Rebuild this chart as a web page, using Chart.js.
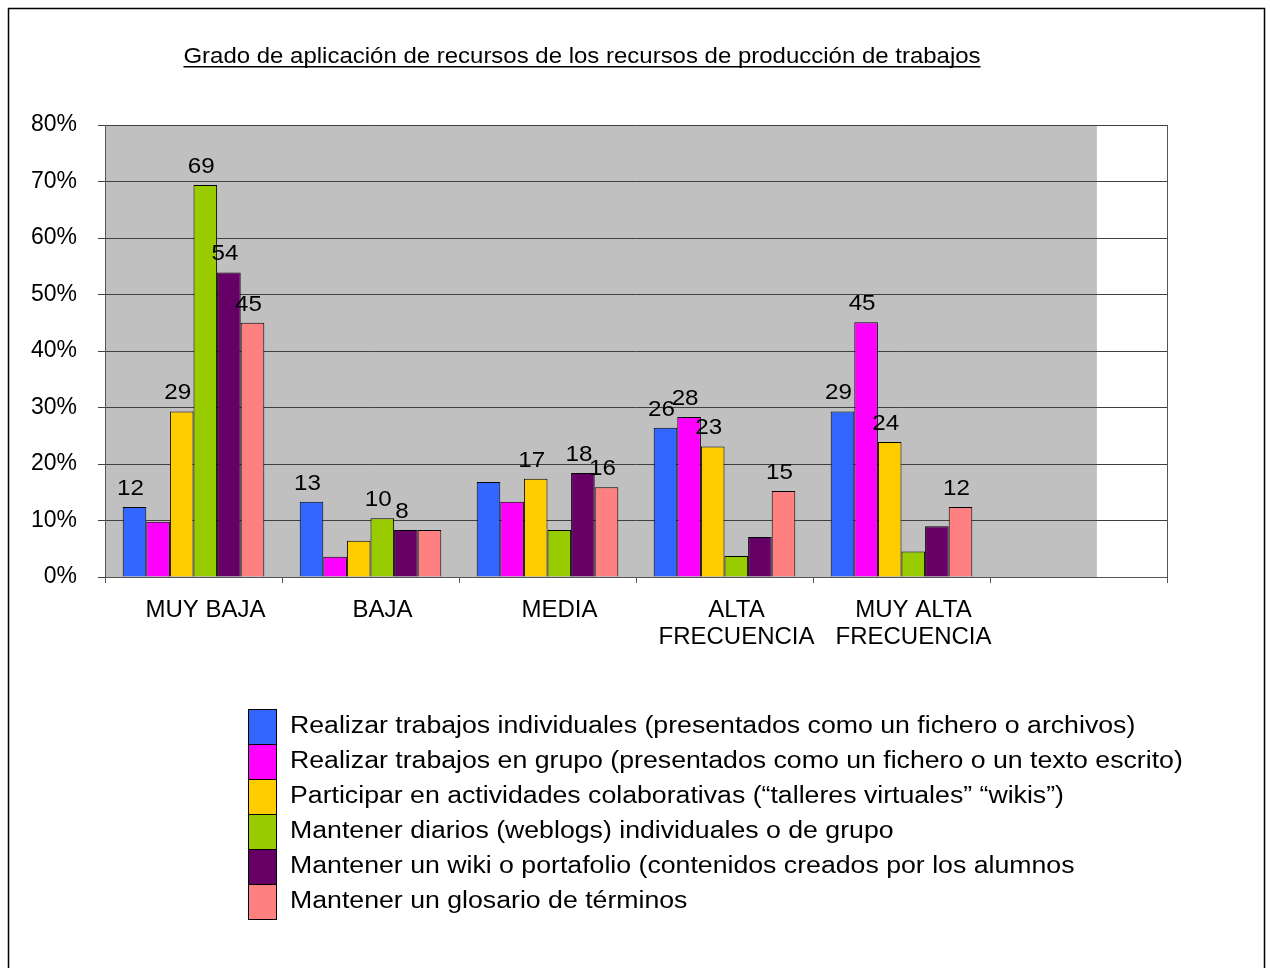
<!DOCTYPE html>
<html>
<head>
<meta charset="utf-8">
<script src="https://cdn.jsdelivr.net/npm/chart.js@4.4.1/dist/chart.umd.min.js"></script>
<style>
    html, body { margin: 0; padding: 0; background: #fff; overflow: hidden; }
    #wrap { width: 1270px; height: 968px; position: relative; }
</style>
</head>
<body>
<div id="wrap"><canvas id="myChart"></canvas></div>
<script>
const chartTitle = 'Grado de aplicación de recursos de los recursos de producción de trabajos';

const categories = ['MUY BAJA', 'BAJA', 'MEDIA', ['ALTA', 'FRECUENCIA'], ['MUY ALTA', 'FRECUENCIA'], ''];

const seriesNames = [
    'Realizar trabajos individuales (presentados como un fichero o archivos)',
    'Realizar trabajos en grupo (presentados como un fichero o un texto escrito)',
    'Participar en actividades colaborativas (“talleres virtuales” “wikis”)',
    'Mantener diarios (weblogs) individuales o de grupo',
    'Mantener un wiki o portafolio (contenidos creados por los alumnos',
    'Mantener un glosario de términos'
];

const individuales = [12.4, 13.3, 16.8, 26.4, 29.3, null];
const enGrupo      = [9.8, 3.6, 13.3, 28.3, 45.1, null];
const colaborativas = [29.3, 6.4, 17.4, 23.1, 23.9, null];
const diarios      = [69.4, 10.4, 8.3, 3.7, 4.5, null];
const wiki         = [53.9, 8.3, 18.4, 7.1, 9.0, null];
const glosario     = [45.0, 8.3, 15.9, 15.2, 12.4, null];

// which bars carry a value label in the original
const showIndividuales = [1, 1, 0, 1, 1, 0];
const showEnGrupo      = [0, 0, 0, 1, 1, 0];
const showColab        = [1, 0, 1, 1, 1, 0];
const showDiarios      = [1, 1, 0, 0, 0, 0];
const showWiki         = [1, 1, 1, 0, 0, 0];
const showGlosario     = [1, 0, 1, 1, 1, 0];

const yTicks = [0, 10, 20, 30, 40, 50, 60, 70, 80];

const colors = ['#3366FF', '#FF00FF', '#FFCC00', '#99CC00', '#660066', '#FF8080'];
const allValues = [individuales, enGrupo, colaborativas, diarios, wiki, glosario];
const allShow = [showIndividuales, showEnGrupo, showColab, showDiarios, showWiki, showGlosario];

const FONT = '"Liberation Sans", Arial, sans-serif';

// draw text a bit wider than the font gives, like the stretched original
function wideText(ctx, text, x, y, sx) {
    ctx.save();
    ctx.translate(x, y);
    ctx.scale(sx, 1);
    ctx.fillText(text, 0, 0);
    ctx.restore();
}

const extras = {
    id: 'extras',
    beforeDraw(chart) {
        const ctx = chart.ctx;
        const a = chart.chartArea;
        ctx.save();
        ctx.fillStyle = '#fff';
        ctx.fillRect(0, 0, chart.width, chart.height);
        // outer frame
        ctx.strokeStyle = '#000';
        ctx.lineWidth = 1.5;
        ctx.strokeRect(8.5, 8.5, 1256, 1000);
        // grey plot background (stops short of the right edge)
        ctx.fillStyle = '#C0C0C0';
        ctx.fillRect(a.left, a.top, (a.right - a.left) * 0.934, a.bottom - a.top);
        ctx.restore();
    },
    afterDatasetsDraw(chart) {
        const ctx = chart.ctx;
        const a = chart.chartArea;
        ctx.save();
        ctx.strokeStyle = '#555';
        ctx.lineWidth = 1;
        ctx.beginPath();
        ctx.moveTo(a.right + 0.5, a.top);
        ctx.lineTo(a.right + 0.5, a.bottom);
        ctx.stroke();

        ctx.font = '22px ' + FONT;
        ctx.fillStyle = '#000';
        ctx.textAlign = 'center';
        ctx.textBaseline = 'alphabetic';
        chart.data.datasets.forEach((ds, i) => {
            const meta = chart.getDatasetMeta(i);
            meta.data.forEach((bar, j) => {
                if (!allShow[i][j] || ds.data[j] == null) return;
                wideText(ctx, String(Math.round(ds.data[j])), bar.x - 4, bar.y - 12, 1.1);
            });
        });
        ctx.restore();
    },
    afterDraw(chart) {
        const ctx = chart.ctx;
        ctx.save();
        // title, underlined
        ctx.font = '22px ' + FONT;
        ctx.fillStyle = '#000';
        ctx.textAlign = 'center';
        ctx.textBaseline = 'alphabetic';
        const sxT = 1.09;
        wideText(ctx, chartTitle, 582, 63, sxT);
        const w = ctx.measureText(chartTitle).width * sxT;
        ctx.fillRect(582 - w / 2, 66, w, 1.5);

        // legend
        ctx.font = '23px ' + FONT;
        ctx.textAlign = 'left';
        ctx.textBaseline = 'middle';
        chart.data.datasets.forEach((ds, i) => {
            const y = 709 + i * 35;
            ctx.fillStyle = ds.backgroundColor;
            ctx.fillRect(248, y, 28, 35);
            ctx.strokeStyle = '#000';
            ctx.lineWidth = 1;
            ctx.strokeRect(248.5, y + 0.5, 28, 35);
            ctx.fillStyle = '#000';
            wideText(ctx, ds.label, 290, y + 18, 1.16);
        });
        ctx.restore();
    }
};

const chart = document.getElementById('myChart').getContext('2d');

const myBarChart = new Chart(chart, {
    type: 'bar',
    data: {
        labels: categories,
        datasets: allValues.map((vals, i) => ({
            label: seriesNames[i],
            data: vals,
            backgroundColor: colors[i],
            borderColor: '#000',
            borderWidth: 1,
            categoryPercentage: 0.8,
            barPercentage: 1.0
        }))
    },
    options: {
        responsive: true,
        maintainAspectRatio: false,
        animation: false,
        layout: {
            padding: { top: 125, right: 103, bottom: 291, left: 0 }
        },
        plugins: {
            legend: { display: false },
            title: { display: false },
            tooltip: { enabled: false }
        },
        scales: {
            x: {
                grid: {
                    offset: true,
                    drawOnChartArea: false,
                    drawTicks: true,
                    tickLength: 6,
                    color: '#555'
                },
                border: { color: '#555', width: 1 },
                ticks: {
                    color: '#000',
                    font: { family: FONT, size: 24, lineHeight: 1.12 },
                    padding: 14,
                    labelOffset: 12,
                    maxRotation: 0,
                    autoSkip: false
                },
                afterFit(scale) { scale.height = 100; }
            },
            y: {
                min: 0,
                max: 80,
                afterBuildTicks(scale) {
                    scale.ticks = yTicks.map(v => ({ value: v }));
                },
                grid: {
                    color: '#404040',
                    lineWidth: 1,
                    drawTicks: true,
                    tickLength: 7
                },
                border: { color: '#555', width: 1 },
                ticks: {
                    color: '#000',
                    font: { family: FONT, size: 23 },
                    padding: 21,
                    callback: v => v + '%'
                },
                afterFit(scale) { scale.width = 105; }
            }
        }
    },
    plugins: [extras]
});
</script>
</body>
</html>
